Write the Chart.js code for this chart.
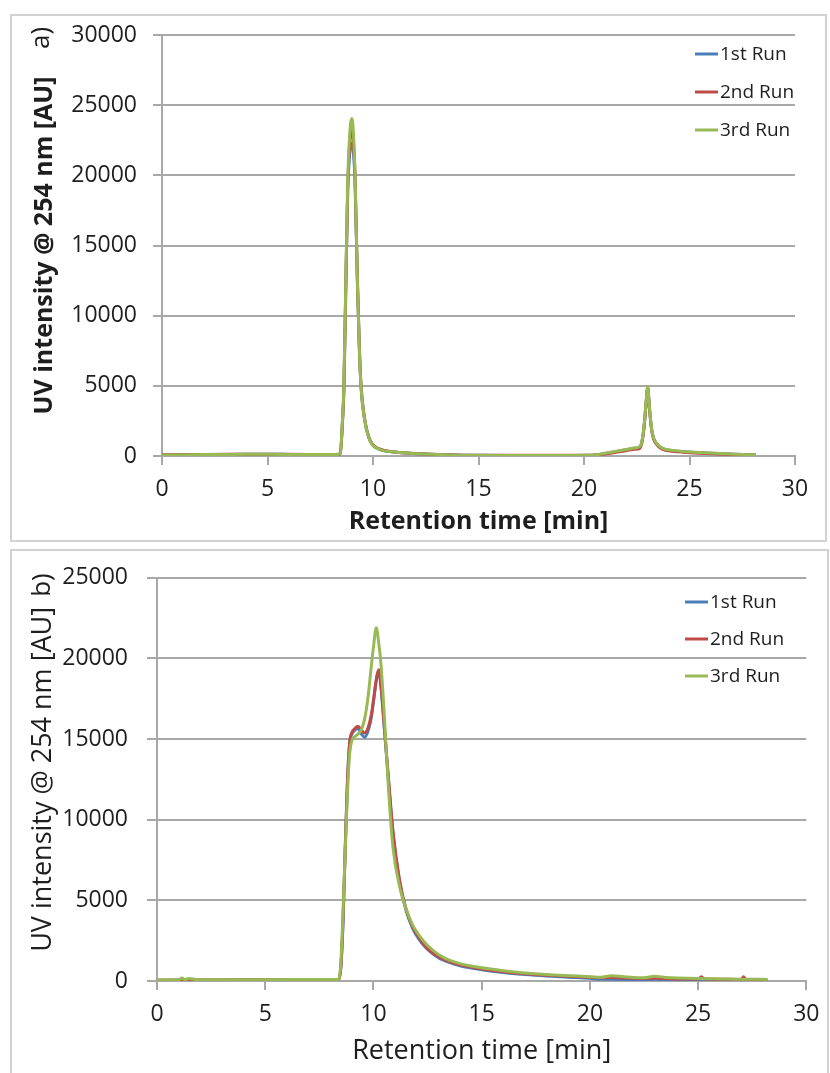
<!DOCTYPE html>
<html>
<head>
<meta charset="utf-8">
<script src="https://cdn.jsdelivr.net/npm/chart.js@4.4.1/dist/chart.umd.min.js"></script>
<style>
  html, body { margin: 0; padding: 0; background: #fff; }
  body { width: 830px; height: 1073px; position: relative; overflow: hidden; font-family: "Open Sans", sans-serif; }
  .frame { position: absolute; border: 2px solid #d2d2d2; box-sizing: border-box; }
  #frameA { left: 10px; top: 14px; width: 817px; height: 528px; }
  #frameB { left: 10px; top: 549px; width: 819px; height: 540px; }
  .wrap { position: absolute; left: 0; width: 830px; }
  #wrapA { top: 0; height: 545px; }
  #wrapB { top: 545px; height: 528px; }
</style>
</head>
<body>
<div class="frame" id="frameA"></div>
<div class="frame" id="frameB"></div>
<div class="wrap" id="wrapA"><canvas id="chartA" width="830" height="545"></canvas></div>
<div class="wrap" id="wrapB"><canvas id="chartB" width="830" height="528"></canvas></div>
<script>
// ---- run labels and colours ----
const runLabels = ['1st Run', '2nd Run', '3rd Run'];
const runColors = ['#4a7ebb', '#be4b48', '#98b954'];

// ---- axis ranges ----
const timeMax = 30;
const timeStep = 5;
const intensityMaxA = 30000;
const intensityMaxB = 25000;
const intensityStep = 5000;

// ---- chromatogram a): retention time [min] and UV intensity [AU] ----
const timeA = [
  0, 1, 2, 3, 4, 5, 6, 7, 8,
  8.3, 8.45, 8.55, 8.62, 8.7, 8.8, 8.9, 9.0,
  9.08, 9.15, 9.26, 9.35, 9.43, 9.6, 9.8, 10.0,
  10.3, 10.65, 11.0, 11.75, 12.5, 13.65, 15, 17,
  19, 20.4, 21, 21.5, 22, 22.4, 22.65, 22.75,
  22.85, 22.93, 23.02, 23.1, 23.2, 23.3, 23.5, 23.76,
  24.2, 24.7, 25.5, 26.3, 27.2, 28.15
];
const run1A = [
  70, 85, 105, 115, 120, 125, 115, 105, 100,
  100, 190, 2400, 4800, 11200, 18800, 21600, 22300,
  21500, 19500, 12400, 7800, 5000, 2600, 1300, 760,
  490, 345, 290, 200, 140, 85, 45, 40,
  40, 50, 180, 310, 440, 550, 650, 1050,
  2150, 3550, 4880, 3450, 1950, 1250, 780, 500,
  380, 300, 240, 180, 120, 70
];
const run2A = [
  80, 90, 110, 120, 120, 130, 120, 110, 100,
  100, 180, 2300, 4700, 11000, 19000, 22400, 23300,
  22200, 19800, 12600, 7900, 5100, 2700, 1350, 780,
  500, 350, 290, 200, 140, 90, 50, 50,
  60, 60, 150, 260, 380, 480, 560, 1000,
  2100, 3500, 4800, 3400, 1900, 1200, 720, 460,
  340, 270, 200, 150, 100, 60
];
const run3A = [
  60, 80, 100, 110, 120, 120, 110, 100, 100,
  100, 200, 2500, 5000, 11500, 19500, 23000, 24050,
  22800, 20000, 12500, 7800, 5000, 2600, 1300, 750,
  480, 340, 290, 200, 140, 80, 40, 30,
  30, 50, 200, 330, 460, 570, 680, 1100,
  2200, 3600, 4950, 3500, 2000, 1300, 800, 520,
  400, 320, 250, 190, 130, 80
];

// ---- chromatogram b) ----
const timeB = [
  0, 1, 1.15, 1.3, 1.45, 2, 4, 6, 8,
  8.4, 8.5, 8.6, 8.7, 8.8, 8.9, 9.0, 9.1,
  9.28, 9.45, 9.6, 9.75, 9.9, 10.0, 10.13, 10.24,
  10.35, 10.5, 10.7, 10.9, 11.2, 11.5, 11.8, 12.1,
  12.5, 13, 13.5, 14, 15, 16, 17, 18,
  19, 20, 20.5, 21, 21.5, 22, 22.5, 23,
  23.5, 24, 25, 25.15, 25.3, 26, 27, 27.1,
  27.2, 28.2
];
const run1B = [
  40, 50, 50, 50, 50, 50, 60, 70, 80,
  90, 900, 3800, 8300, 12300, 14700, 15300, 15500,
  15650, 15300, 15120, 15500, 16300, 17300, 18600, 19250,
  18200, 15700, 12300, 9200, 6200, 4400, 3300, 2600,
  1950, 1450, 1150, 950, 700, 520, 400, 310,
  240, 170, 110, 110, 90, 80, 70, 110,
  70, 60, 50, 50, 50, 50, 50, 50,
  50, 40
];
const run2B = [
  50, 60, 60, 60, 60, 60, 70, 80, 90,
  100, 1000, 4000, 8500, 12500, 14800, 15400, 15600,
  15800, 15550, 15380, 15700, 16500, 17400, 18700, 19300,
  18300, 15800, 12500, 9300, 6300, 4500, 3400, 2700,
  2000, 1500, 1200, 1000, 750, 580, 450, 360,
  290, 230, 200, 210, 190, 170, 160, 170,
  150, 130, 120, 260, 120, 110, 100, 260,
  100, 80
];
const run3B = [
  60, 70, 180, 70, 150, 70, 80, 90, 100,
  100, 1300, 4500, 8200, 11700, 14100, 14900, 15100,
  15300, 15600, 16300, 17600, 19500, 20700, 21900, 21000,
  19600, 16500, 11800, 8300, 5900, 4500, 3500, 2850,
  2200, 1650, 1300, 1080, 820, 640, 500, 400,
  330, 270, 230, 330, 280, 220, 200, 300,
  220, 180, 150, 150, 140, 130, 110, 110,
  110, 100
];

// ---- helpers ----
const toPoints = (xs, ys) => xs.map((x, i) => ({ x: x, y: ys[i] }));

function buildDatasets(times, runs) {
  return runs.map((vals, i) => ({
    label: runLabels[i],
    data: toPoints(times, vals),
    borderColor: runColors[i],
    backgroundColor: runColors[i],
    borderWidth: 3,
    pointRadius: 0,
    cubicInterpolationMode: 'monotone',
    fill: false,
    order: runs.length - i   // later runs are drawn over earlier ones
  }));
}

// Vertical legend with short line samples, drawn inside the plot
const runLegend = {
  id: 'runLegend',
  afterDatasetsDraw(chart, args, opts) {
    const ctx = chart.ctx;
    ctx.save();
    ctx.font = opts.font;
    ctx.textBaseline = 'middle';
    ctx.textAlign = 'left';
    chart.data.datasets.forEach((ds, i) => {
      const y = opts.y + i * opts.gap;
      ctx.strokeStyle = ds.borderColor;
      ctx.lineWidth = 3;
      ctx.beginPath();
      ctx.moveTo(opts.x, y);
      ctx.lineTo(opts.x + opts.lineLen, y);
      ctx.stroke();
      ctx.fillStyle = opts.color;
      ctx.fillText(ds.label, opts.x + opts.lineLen + 2, y + 1);
    });
    ctx.restore();
  }
};

// Rotated panel tag ("a)", "b)") next to the axis title
const panelTag = {
  id: 'panelTag',
  afterDraw(chart, args, opts) {
    const ctx = chart.ctx;
    ctx.save();
    ctx.translate(opts.x, opts.y);
    ctx.rotate(-Math.PI / 2);
    ctx.font = opts.font;
    ctx.fillStyle = opts.color;
    ctx.textAlign = 'center';
    ctx.textBaseline = 'middle';
    ctx.fillText(opts.text, 0, 0);
    ctx.restore();
  }
};

function makeChart(canvasId, cfg) {
  const gridColor = '#a8a8a8';
  return new Chart(document.getElementById(canvasId), {
    type: 'line',
    data: { datasets: cfg.datasets },
    plugins: [runLegend, panelTag],
    options: {
      responsive: false,
      animation: false,
      devicePixelRatio: 1,
      layout: { padding: { left: 0, right: cfg.padRight, top: cfg.padTop, bottom: 0 } },
      plugins: {
        legend: { display: false },
        tooltip: { enabled: false },
        runLegend: cfg.legend,
        panelTag: cfg.tag
      },
      scales: {
        x: {
          type: 'linear',
          min: 0, max: timeMax,
          afterFit: s => { s.height = cfg.xAxisHeight; },
          ticks: {
            stepSize: timeStep,
            color: '#1e1e1e',
            font: { family: 'Open Sans', size: cfg.tickSize },
            padding: cfg.xTickPad,
            maxRotation: 0,
            callback: v => String(v)
          },
          grid: { drawOnChartArea: false, drawTicks: true, tickLength: 9, color: gridColor, lineWidth: 2 },
          border: { display: true, color: gridColor, width: 2 },
          title: {
            display: true,
            text: 'Retention time [min]',
            color: '#1e1e1e',
            font: { family: 'Open Sans', size: cfg.titleSize, weight: cfg.titleWeight },
            padding: { top: 0, bottom: cfg.xTitlePad }
          }
        },
        y: {
          min: 0, max: cfg.yMax,
          afterFit: s => { s.width = cfg.yAxisWidth; },
          ticks: {
            stepSize: intensityStep,
            color: '#1e1e1e',
            font: { family: 'Open Sans', size: cfg.tickSize },
            padding: cfg.yTickPad,
            callback: v => String(v)
          },
          grid: { drawOnChartArea: true, drawTicks: true, tickLength: cfg.yTickLen, color: gridColor, lineWidth: 2 },
          border: { display: true, color: gridColor, width: 2 },
          title: {
            display: true,
            text: 'UV intensity @ 254 nm [AU]',
            color: '#1e1e1e',
            font: { family: 'Open Sans', size: cfg.titleSize, weight: cfg.titleWeight },
            padding: { top: cfg.yTitlePad, bottom: 0 }
          }
        }
      }
    }
  });
}

makeChart('chartA', {
  datasets: buildDatasets(timeA, [run1A, run2A, run3A]),
  yMax: intensityMaxA,
  padTop: 35, padRight: 35,
  xAxisHeight: 89, yAxisWidth: 162,
  tickSize: 23, xTickPad: 11, yTickPad: 16, yTickLen: 9,
  titleSize: 25, titleWeight: 'bold', xTitlePad: 8, yTitlePad: 30,
  legend: { x: 695, y: 54, gap: 38, lineLen: 23, font: '19px "Open Sans"', color: '#1e1e1e' },
  tag: { text: 'a)', x: 42, y: 38, font: '26px "Open Sans"', color: '#1e1e1e' }
});

makeChart('chartB', {
  datasets: buildDatasets(timeB, [run1B, run2B, run3B]),
  yMax: intensityMaxB,
  padTop: 29, padRight: 22,
  xAxisHeight: 92, yAxisWidth: 157,
  tickSize: 23, xTickPad: 10.5, yTickPad: 19, yTickLen: 10,
  titleSize: 27, titleWeight: 'normal', xTitlePad: 5, yTitlePad: 27,
  legend: { x: 685, y: 57, gap: 37, lineLen: 23, font: '19px "Open Sans"', color: '#1e1e1e' },
  tag: { text: 'b)', x: 43, y: 40, font: '26px "Open Sans"', color: '#1e1e1e' }
});
</script>
</body>
</html>
